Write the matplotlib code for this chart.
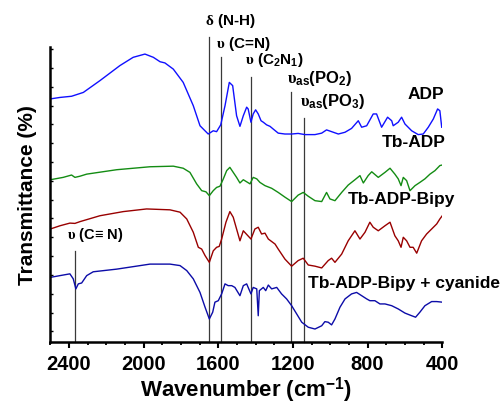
import numpy as np
import matplotlib
matplotlib.use('Agg')
import matplotlib.pyplot as plt

plt.rcParams['font.family'] = ['Liberation Sans', 'DejaVu Sans']
plt.rcParams['font.weight'] = 'bold'
plt.rcParams['mathtext.fontset'] = 'custom'
plt.rcParams['mathtext.rm'] = 'Liberation Sans'
plt.rcParams['mathtext.bf'] = 'Liberation Sans:bold'
plt.rcParams['mathtext.it'] = 'Liberation Serif'

# FTIR spectra (wavenumber in cm-1, transmittance in arbitrary offset units)
adp_wn = [2500, 2448, 2386, 2323, 2234, 2127, 2056, 1993, 1948, 1912, 1886, 1841, 1788, 1734, 1698,
          1654, 1627, 1609, 1587, 1564, 1541, 1523, 1502, 1484, 1466, 1448, 1440, 1425, 1413, 1400,
          1386, 1371, 1359, 1341, 1323, 1306, 1279, 1243, 1207, 1172, 1136, 1082, 1046, 1020, 993,
          957, 921, 886, 850, 832, 805, 770, 752, 725, 693, 671, 663, 636, 618, 600,
          564, 529, 502, 475, 448, 425, 413, 403]
adp_t = [82.4, 82.9, 83.3, 84.6, 88.6, 93.7, 96.5, 97.6, 96.5, 95.0, 94.6, 92.5, 88.0, 80.1, 73.3,
         70.5, 71.6, 71.3, 73.6, 80.1, 88.0, 86.9, 76.7, 73.1, 76.7, 79.6, 79.0, 74.5, 77.3, 78.7,
         77.3, 75.0, 74.5, 73.6, 73.1, 72.2, 70.8, 70.5, 70.5, 70.7, 70.3, 70.3, 70.8, 71.9, 71.3,
         70.5, 71.1, 72.4, 75.0, 72.8, 73.3, 77.3, 77.3, 72.8, 76.2, 75.0, 73.3, 74.5, 76.2, 73.9,
         71.6, 70.3, 70.5, 72.8, 75.6, 79.0, 78.4, 72.8]

tb_wn = [2500, 2431, 2386, 2368, 2341, 2305, 2144, 1966, 1841, 1788, 1752, 1716, 1689, 1666, 1648,
         1627, 1609, 1591, 1573, 1555, 1538, 1520, 1502, 1484, 1466, 1430, 1413, 1394, 1377, 1350,
         1314, 1279, 1243, 1207, 1172, 1145, 1118, 1082, 1046, 1020, 1002, 975, 939, 904, 868,
         841, 823, 797, 778, 743, 707, 680, 654, 636, 621, 609, 591, 573, 546, 520,
         493, 466, 439, 413, 400]
tb_t = [55.0, 55.8, 56.6, 55.8, 56.2, 56.9, 58.4, 59.4, 59.6, 58.9, 57.5, 53.6, 51.3, 50.9, 49.6,
        51.3, 52.4, 52.8, 55.3, 58.1, 59.2, 57.5, 55.8, 53.9, 55.0, 53.6, 55.8, 55.3, 54.1, 53.0,
        52.1, 50.7, 49.1, 47.6, 49.8, 50.7, 49.4, 47.9, 47.6, 50.7, 48.5, 47.9, 50.7, 53.2, 55.0,
        56.4, 53.9, 56.4, 57.7, 55.8, 57.5, 58.9, 56.9, 55.3, 53.0, 55.8, 54.7, 51.3, 53.0, 54.1,
        55.3, 56.9, 58.1, 59.8, 60.0]

bipy_wn = [2500, 2448, 2395, 2368, 2341, 2234, 2109, 1984, 1859, 1805, 1769, 1734, 1707, 1689, 1671,
           1648, 1627, 1609, 1595, 1582, 1559, 1538, 1520, 1502, 1484, 1466, 1425, 1404, 1386, 1368,
           1350, 1332, 1296, 1279, 1243, 1207, 1172, 1145, 1118, 1082, 1046, 1011, 993, 975, 939,
           904, 868, 841, 814, 788, 770, 743, 707, 680, 654, 636, 621, 609, 591, 573,
           556, 537, 511, 484, 457, 430, 413, 400]
bipy_t = [38.3, 39.4, 40.3, 40.2, 40.8, 42.8, 44.2, 45.1, 44.8, 44.0, 41.7, 37.2, 32.1, 31.5, 29.3,
          27.0, 30.9, 32.1, 32.4, 34.9, 40.6, 44.2, 42.3, 38.3, 34.3, 37.7, 34.9, 38.3, 38.9, 36.6,
          36.9, 34.9, 33.2, 31.5, 28.1, 25.7, 27.6, 28.4, 26.1, 25.7, 25.1, 27.6, 28.4, 27.0, 29.8,
          34.3, 37.7, 34.9, 37.2, 40.6, 38.9, 37.7, 39.4, 40.6, 36.0, 34.3, 32.1, 35.5, 34.3, 32.1,
          32.1, 30.1, 34.3, 36.6, 38.3, 40.0, 41.7, 42.8]

cn_wn = [2500, 2448, 2395, 2377, 2363, 2350, 2332, 2305, 2270, 2144, 1966, 1859, 1805, 1769, 1734,
         1698, 1671, 1648, 1630, 1618, 1600, 1582, 1564, 1547, 1528, 1511, 1484, 1466, 1448, 1440,
         1425, 1413, 1394, 1386, 1380, 1359, 1346, 1332, 1314, 1287, 1261, 1234, 1207, 1180, 1153,
         1118, 1082, 1046, 1029, 1011, 993, 975, 948, 921, 886, 859, 832, 805, 788, 761,
         734, 707, 671, 636, 600, 564, 543, 520, 493, 457, 430, 400]
cn_t = [21.9, 22.5, 23.1, 21.4, 18.0, 19.7, 20.0, 22.5, 23.8, 24.7, 26.4, 26.4, 25.9, 24.2, 21.4,
        16.8, 11.8, 7.8, 10.1, 13.5, 14.0, 16.3, 19.7, 19.1, 19.1, 18.5, 15.7, 19.1, 19.7, 18.5,
        16.3, 18.5, 18.0, 8.9, 17.4, 18.5, 17.4, 19.3, 18.0, 18.5, 16.3, 14.6, 12.3, 9.5, 6.7,
        5.0, 4.4, 5.5, 6.9, 6.7, 5.8, 7.8, 11.8, 14.6, 16.3, 16.8, 15.7, 14.6, 14.0, 14.0,
        12.9, 12.9, 12.3, 11.2, 9.8, 8.9, 8.4, 10.1, 12.3, 13.7, 13.7, 13.5]

# series name labels (x, y)
nomes = ['ADP', 'Tb-ADP', 'Tb-ADP-Bipy', 'Tb-ADP-Bipy + cyanide']
nomes_x = [584, 723, 905, 1120]
nomes_y = [84.4, 67.8, 48.5, 20.0]

# band assignments: line position, line top, label anchor
bandas = [r'$\delta$ (N-H)', r'$\upsilon$ (C=N)', r'$\upsilon$ (C$_\mathbf{2}$N$_\mathbf{1}$)',
          r'$\upsilon_\mathbf{as}$(PO$_\mathbf{2}$)', r'$\upsilon_\mathbf{as}$(PO$_\mathbf{3}$)',
          r'$\upsilon$ (C≡ N)']
bandas_wn = [1650, 1585, 1425, 1210, 1140, 2365]
bandas_top = [103.4, 96.6, 89.7, 84.6, 75.9, 30.8]
bandas_lx = [1671, 1613, 1457, 1232, 1163, 2411]
bandas_ly = [109.0, 101.4, 95.9, 89.8, 81.7, 36.6]
bandas_fs = [11, 11, 11, 12, 12, 10.5]

fig = plt.figure(figsize=(5.01, 4.06), dpi=100)
ax = fig.add_axes([0.1004, 0.1552, 0.7824, 0.7266])

ax.plot(adp_wn, adp_t, color='#1010ff', lw=1.0)
ax.plot(tb_wn, tb_t, color='#138c13', lw=1.0)
ax.plot(bipy_wn, bipy_t, color='#990000', lw=1.0)
ax.plot(cn_wn, cn_t, color='#0c0ca8', lw=1.0)

for i in range(len(bandas)):
  ax.plot([bandas_wn[i], bandas_wn[i]], [0, bandas_top[i]], color='#3a3a3a', lw=0.9, clip_on=False, zorder=1)
  ax.text(bandas_lx[i], bandas_ly[i], bandas[i], fontsize=bandas_fs[i], fontweight='bold',
          ha='left', va='center')

for i in range(len(nomes)):
  ax.text(nomes_x[i], nomes_y[i], nomes[i], fontsize=12.5, fontweight='bold', ha='left', va='center')

ax.set_xlim(2500, 400)
ax.set_ylim(0, 100)

ax.spines['top'].set_visible(False)
ax.spines['right'].set_visible(False)
ax.spines['left'].set_linewidth(1.8)
ax.spines['bottom'].set_linewidth(1.8)

ax.set_xticks([2400, 2000, 1600, 1200, 800, 400])
ax.set_xticks(np.arange(2500, 399, -100), minor=True)
ax.tick_params(axis='x', which='major', direction='out', length=4, width=1.5, labelsize=14.5, pad=5)
ax.tick_params(axis='x', which='minor', direction='out', length=2.5, width=1.3)

ax.set_yticks(np.linspace(3.6, 99.3, 16))
ax.set_yticklabels([])
ax.tick_params(axis='y', direction='in', length=2.5, width=1.0)

ax.set_xlabel('Wavenumber (cm$^\\mathbf{-1}$)', fontsize=16, fontweight='bold', labelpad=1)
ax.set_ylabel('Transmittance (%)', fontsize=15, fontweight='bold', labelpad=6)

fig.savefig('out.png', dpi=100)
